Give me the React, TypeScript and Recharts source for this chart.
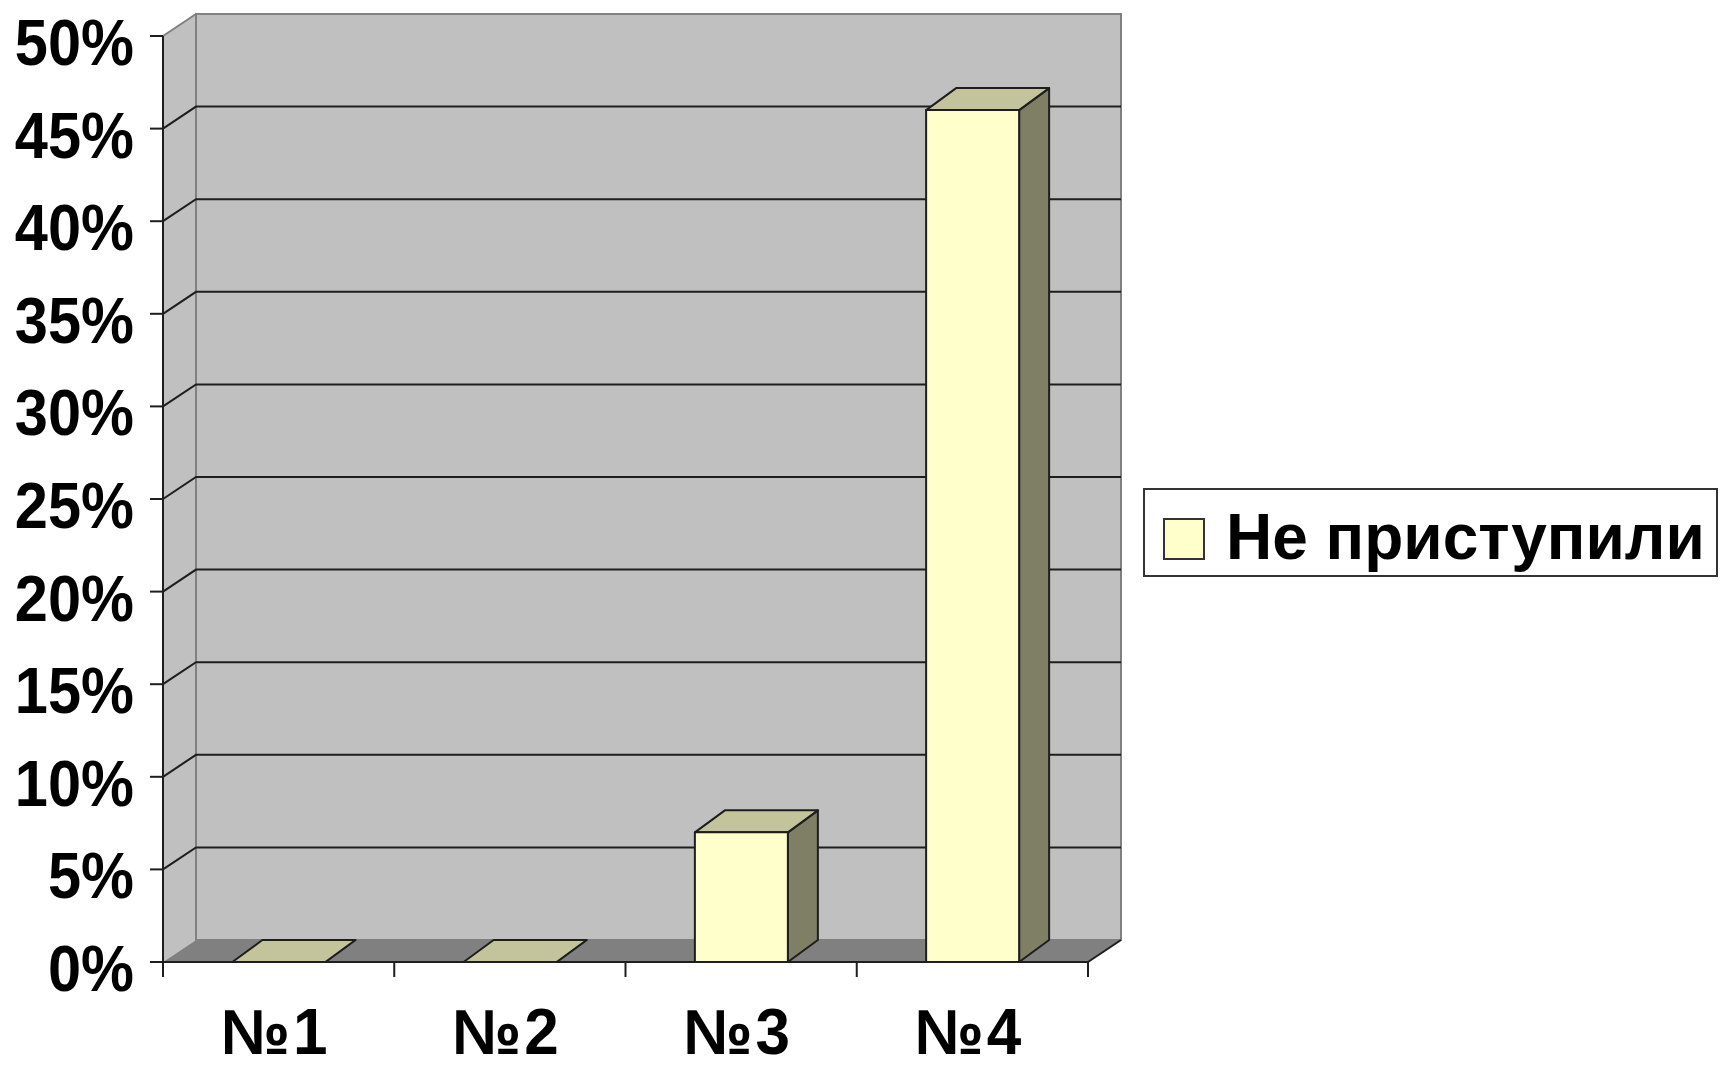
import React from "react";
import {
  BarChart,
  Bar,
  XAxis,
  YAxis,
  ReferenceArea,
  ReferenceLine,
  Legend,
} from "recharts";

// data
const categories = ["№1", "№2", "№3", "№4"];
const notStarted = [0, 0, 7, 46];
const yTicks = [0, 5, 10, 15, 20, 25, 30, 35, 40, 45, 50];
const seriesName = "Не приступили";

const data = categories.map((name, i) => ({ name, value: notStarted[i] }));

const WIDTH = 1721;
const HEIGHT = 1067;
const FONT = "'Liberation Sans', Arial, 'DejaVu Sans', sans-serif";
const SQUEEZE = 0.93;

// 3d depth of the walls and of the bars
const WALL_DX = 33;
const WALL_DY = 22;
const BAR_DX = 30;
const BAR_DY = 22;

const WALL = "#c0c0c0";
const FLOOR = "#808080";
const EDGE = "#1e1e1e";
const FRONT = "#ffffcc";
const TOP = "#c4c49c";
const SIDE = "#7f7f66";

function Walls(props: any) {
  const { x, y, width: w, height: h } = props;
  const b = y + h;
  return (
    <g>
      {/* left side wall */}
      <polygon
        points={`${x},${y} ${x + WALL_DX},${y - WALL_DY} ${x + WALL_DX},${b - WALL_DY} ${x},${b}`}
        fill={WALL}
      />
      {/* back wall */}
      <rect
        x={x + WALL_DX}
        y={y - WALL_DY}
        width={w}
        height={h}
        fill={WALL}
        stroke={FLOOR}
        strokeWidth={2}
      />
      <line x1={x} y1={y} x2={x + WALL_DX} y2={y - WALL_DY} stroke={FLOOR} strokeWidth={2} />
      {/* floor */}
      <polygon
        points={`${x},${b} ${x + WALL_DX},${b - WALL_DY} ${x + w + WALL_DX},${b - WALL_DY} ${x + w},${b}`}
        fill={FLOOR}
      />
      <line x1={x + w} y1={b} x2={x + w + WALL_DX} y2={b - WALL_DY} stroke={EDGE} strokeWidth={2} />
    </g>
  );
}

function GridLine(props: any) {
  const { x1, y1, x2 } = props;
  return (
    <polyline
      points={`${x1},${y1} ${x1 + WALL_DX},${y1 - WALL_DY} ${x2 + WALL_DX},${y1 - WALL_DY}`}
      fill="none"
      stroke={EDGE}
      strokeWidth={2}
    />
  );
}

function Bar3D(props: any) {
  const { x, y, width: w, height: h } = props;
  return (
    <g stroke={EDGE} strokeWidth={2} strokeLinejoin="round">
      <polygon
        points={`${x + w},${y} ${x + w + BAR_DX},${y - BAR_DY} ${x + w + BAR_DX},${y + h - BAR_DY} ${x + w},${y + h}`}
        fill={SIDE}
      />
      <polygon
        points={`${x},${y} ${x + BAR_DX},${y - BAR_DY} ${x + w + BAR_DX},${y - BAR_DY} ${x + w},${y}`}
        fill={TOP}
      />
      <rect x={x} y={y} width={w} height={h} fill={FRONT} />
    </g>
  );
}

function YTick(props: any) {
  const { x, y, payload } = props;
  return (
    <text
      transform={`translate(${x},${y + 29}) scale(${SQUEEZE},1)`}
      textAnchor="end"
      fontFamily={FONT}
      fontWeight="bold"
      fontSize={64}
      fill="#000"
    >
      {payload.value}%
    </text>
  );
}

function XTick(props: any) {
  const { x, y, payload, index, width } = props;
  const half = (Number(width) || 925) / categories.length / 2;
  return (
    <g>
      <line x1={x - half} y1={y} x2={x - half} y2={y + 15} stroke={EDGE} strokeWidth={2} />
      {index === categories.length - 1 && (
        <line x1={x + half} y1={y} x2={x + half} y2={y + 15} stroke={EDGE} strokeWidth={2} />
      )}
      <text
        transform={`translate(${x - 3},${y + 92}) scale(0.97,1)`}
        textAnchor="middle"
        fontFamily={FONT}
        fontWeight="bold"
        fontSize={64}
        letterSpacing={3}
        fill="#000"
      >
        {payload.value}
      </text>
    </g>
  );
}

function LegendBox(props: any) {
  const entry = props.payload && props.payload[0];
  const label = entry ? entry.value : seriesName;
  return (
    <svg width={576} height={90} style={{ display: "block" }}>
      <rect x={1} y={1} width={573} height={87} fill="#fff" stroke="#333" strokeWidth={2} />
      <rect x={21} y={31} width={40} height={40} fill={FRONT} stroke="#333" strokeWidth={2} />
      <text x={83} y={71} fontFamily={FONT} fontWeight="bold" fontSize={64} fill="#000">
        {label}
      </text>
    </svg>
  );
}

export default function App() {
  return (
    <div style={{ position: "absolute", left: 0, top: 0, width: WIDTH, height: HEIGHT, background: "#fff" }}>
      <BarChart
        width={WIDTH}
        height={HEIGHT}
        data={data}
        margin={{ top: 36, right: 633, bottom: 5, left: 0 }}
        barCategoryGap="30%"
      >
        <ReferenceArea y1={0} y2={50} shape={<Walls />} zIndex={-90} ifOverflow="visible" />
        {yTicks
          .filter((t) => t > 0 && t < 50)
          .map((t) => (
            <ReferenceLine key={t} y={t} shape={<GridLine />} zIndex={-80} ifOverflow="visible" />
          ))}
        <XAxis
          dataKey="name"
          height={100}
          tickLine={false}
          tickSize={0}
          tickMargin={0}
          tick={<XTick />}
          axisLine={{ stroke: EDGE, strokeWidth: 2 }}
          interval={0}
        />
        <YAxis
          width={163}
          domain={[0, 50]}
          ticks={yTicks}
          interval={0}
          tickSize={13}
          tickMargin={16}
          tick={<YTick />}
          tickLine={{ stroke: EDGE, strokeWidth: 2 }}
          axisLine={{ stroke: EDGE, strokeWidth: 2 }}
        />
        <Bar
          dataKey="value"
          name={seriesName}
          fill={FRONT}
          shape={<Bar3D />}
          isAnimationActive={false}
        />
        <Legend
          layout="horizontal"
          align="center"
          verticalAlign="middle"
          content={<LegendBox />}
          wrapperStyle={{ left: 1143, top: 488, width: 576, height: 90 }}
        />
      </BarChart>
    </div>
  );
}
